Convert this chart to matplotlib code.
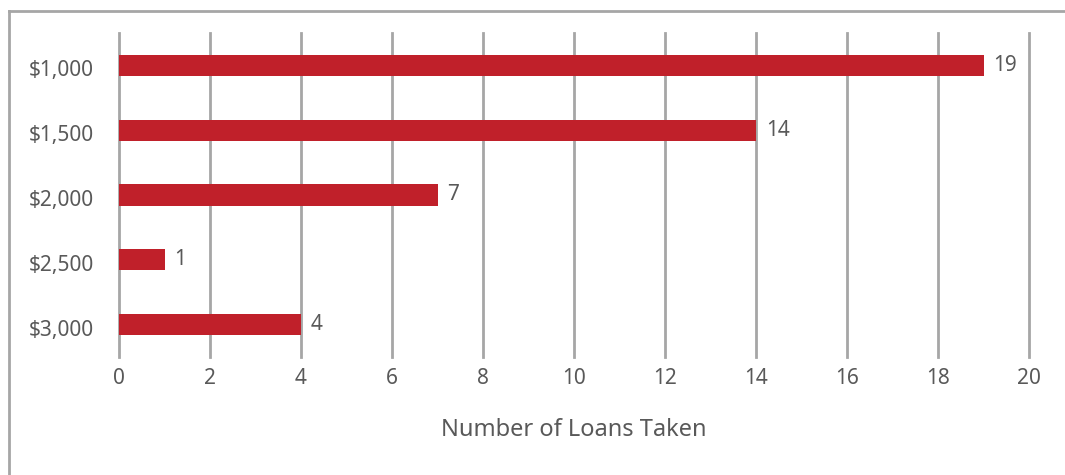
import matplotlib
matplotlib.use('Agg')
import matplotlib.pyplot as plt
import matplotlib.transforms as mt
from matplotlib.lines import Line2D

#==============================================================================
# data
#==============================================================================

Amounts = ['$1,000', '$1,500', '$2,000', '$2,500', '$3,000']
Loans   = [19, 14, 7, 1, 4]
XTicks  = [0, 2, 4, 6, 8, 10, 12, 14, 16, 18, 20]
XLabel  = 'Number of Loans Taken'

BarColor  = '#C0202A'
GridColor = '#A6A6A6'
TextColor = '#595959'

plt.rcParams['font.family'] = ['Noto Sans', 'DejaVu Sans']
FontSize  = 15
LabelSize = 17

#==============================================================================
# graph
#==============================================================================

fig = plt.figure(figsize=(10.65, 4.75), dpi=100)
W, H = 1065.0, 475.0
ax = fig.add_axes([119 / W, 1 - 357 / H, (1029 - 119) / W, (357 - 33) / H])

Y = list(range(len(Amounts)))
ax.barh(Y, Loans, height=0.33, color=BarColor, zorder=3)

for y, v in zip(Y, Loans):
  ax.annotate(str(v), xy=(v, y), xytext=(7, 0), textcoords='offset points',
              va='center', ha='left', fontsize=FontSize, color=TextColor)

ax.set_xlim(0, 20)
ax.set_ylim(len(Amounts) - 0.5, -0.5)
ax.set_xticks(XTicks)
ax.set_yticks(Y)
ax.set_yticklabels(Amounts)
ax.tick_params(axis='both', length=0, labelsize=FontSize, labelcolor=TextColor)
ax.tick_params(axis='y', pad=18)
ax.tick_params(axis='x', pad=8)
# category labels sit a little below the bar centres
Shift = mt.ScaledTranslation(0, -3 / 100.0, fig.dpi_scale_trans)
for t in ax.get_yticklabels():
  t.set_transform(t.get_transform() + Shift)
ax.xaxis.grid(True, color=GridColor, linewidth=2, zorder=0)
for g in ax.get_xgridlines():
  g.set_clip_on(False)
for s in ax.spines.values():
  s.set_visible(False)
ax.set_xlabel(XLabel, fontsize=LabelSize, color=TextColor, labelpad=21)

# outer border, clipped at the right and bottom
fig.add_artist(Line2D([9 / W, 1], [1 - 11 / H, 1 - 11 / H], color=GridColor, linewidth=2))
fig.add_artist(Line2D([9 / W, 9 / W], [0, 1 - 11 / H], color=GridColor, linewidth=2))

fig.savefig('out.png', dpi=100)
